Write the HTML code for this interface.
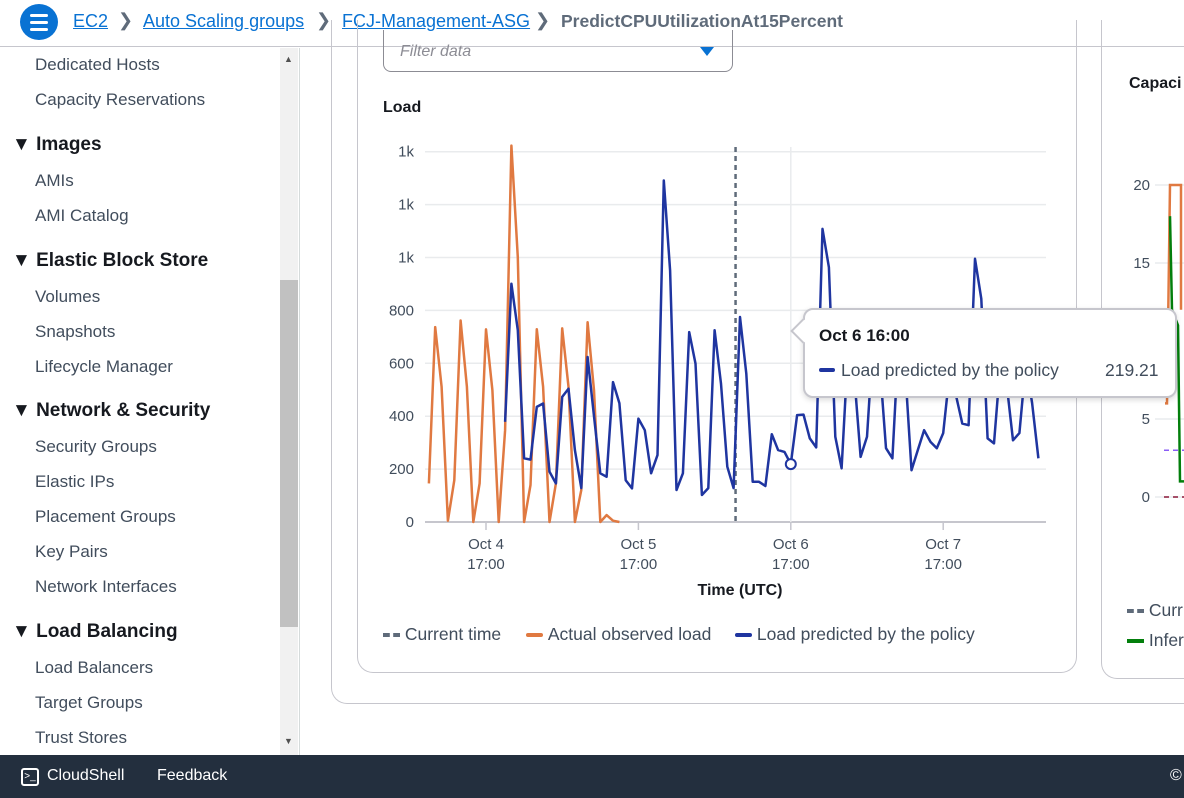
<!DOCTYPE html>
<html><head><meta charset="utf-8">
<style>
*{box-sizing:border-box;margin:0;padding:0}
body{width:1184px;height:798px;overflow:hidden;background:#fff;font-family:"Liberation Sans",Arial,sans-serif;color:#16191f;position:relative}
.abs{position:absolute}
#hdr{left:0;top:0;width:1184px;height:47px;border-bottom:1px solid #c6c6cd;background:#fff}
.crumb{position:absolute;top:11px;font-size:18px;color:#0972d3;text-decoration:underline}
.sep{position:absolute;top:10px;font-size:18px;color:#5f6b7a}
#side{left:0;top:48px;width:300px;height:707px;border-right:1px solid #d5dbdb}
.si{position:absolute;left:35px;font-size:17px;color:#414d5c}
.sh{position:absolute;left:12px;font-size:19px;font-weight:bold;color:#16191f}
#foot{left:0;top:755px;width:1184px;height:43px;background:#232f3e;color:#fff;font-size:16px}
.lg{position:absolute;top:0;white-space:nowrap}
</style></head><body>
<div id="hdr" class="abs">
 <div class="abs" style="left:20px;top:4px;width:38px;height:36px;border-radius:50%;background:#0972d3">
  <div class="abs" style="left:10px;top:10px;width:18px;height:3px;background:#fff;border-radius:2px"></div>
  <div class="abs" style="left:10px;top:17px;width:18px;height:3px;background:#fff;border-radius:2px"></div>
  <div class="abs" style="left:10px;top:24px;width:18px;height:3px;background:#fff;border-radius:2px"></div>
 </div>
 <a class="crumb" style="left:73px">EC2</a>
 <span class="sep" style="left:118px">&#x276F;</span>
 <a class="crumb" style="left:143px">Auto Scaling groups</a>
 <span class="sep" style="left:316px">&#x276F;</span>
 <a class="crumb" style="left:342px">FCJ-Management-ASG</a>
 <span class="sep" style="left:535px">&#x276F;</span>
 <span class="abs" style="left:561px;top:11px;font-size:17.5px;font-weight:bold;color:#5f6b7a">PredictCPUUtilizationAt15Percent</span>
</div>
<div id="side" class="abs">
 <div class="si" style="top:7px">Dedicated Hosts</div>
 <div class="si" style="top:42px">Capacity Reservations</div>
 <div class="sh" style="top:86px">▼ Images</div>
 <div class="si" style="top:123px">AMIs</div>
 <div class="si" style="top:158px">AMI Catalog</div>
 <div class="sh" style="top:202px">▼ Elastic Block Store</div>
 <div class="si" style="top:239px">Volumes</div>
 <div class="si" style="top:274px">Snapshots</div>
 <div class="si" style="top:309px">Lifecycle Manager</div>
 <div class="sh" style="top:352px">▼ Network &amp; Security</div>
 <div class="si" style="top:389px">Security Groups</div>
 <div class="si" style="top:424px">Elastic IPs</div>
 <div class="si" style="top:459px">Placement Groups</div>
 <div class="si" style="top:494px">Key Pairs</div>
 <div class="si" style="top:529px">Network Interfaces</div>
 <div class="sh" style="top:573px">▼ Load Balancing</div>
 <div class="si" style="top:610px">Load Balancers</div>
 <div class="si" style="top:645px">Target Groups</div>
 <div class="si" style="top:680px">Trust Stores</div>
 <div class="abs" style="left:280px;top:0;width:18px;height:707px;background:#f1f1f1">
  <div class="abs" style="left:0;top:232px;width:18px;height:347px;background:#c1c1c1"></div>
  <div class="abs" style="left:4px;top:6px;font-size:9px;color:#505050">▲</div>
  <div class="abs" style="left:4px;top:688px;font-size:9px;color:#505050">▼</div>
 </div>
</div>
<div class="abs" style="left:331px;top:20px;width:900px;height:684px;border:1px solid #c6c6cd;border-top:none;border-radius:0 0 16px 16px"></div>
<div class="abs" style="left:357px;top:20px;width:720px;height:653px;border:1px solid #c6c6cd;border-top:none;border-radius:0 0 16px 16px"></div>
<div class="abs" style="left:1101px;top:20px;width:120px;height:659px;border:1px solid #c6c6cd;border-top:none;border-radius:0 0 16px 16px"></div>
<div class="abs" style="left:383px;top:30px;width:350px;height:42px;border:1px solid #8c8c94;border-top:none;border-radius:0 0 8px 8px">
 <span class="abs" style="left:16px;top:13px;font-size:16px;font-style:italic;color:#8c8c94">Filter data</span>
 <div class="abs" style="left:316px;top:17px;width:0;height:0;border-left:7px solid transparent;border-right:7px solid transparent;border-top:9px solid #0972d3"></div>
</div>
<div class="abs" style="left:383px;top:99px;font-size:16px;font-weight:bold">Load</div>
<div class="abs" style="left:1129px;top:75px;font-size:16px;font-weight:bold">Capaci</div>

<svg class="abs" style="left:0;top:0" width="1184" height="798" id="chart"></svg>

<div class="abs" style="left:803px;top:308px;width:374px;height:90px;background:#fff;border:2px solid #c6c6cd;border-radius:10px;box-shadow:0 2px 6px rgba(0,0,0,.15)">
 <div class="abs" style="left:-11px;top:12px;width:18px;height:18px;background:#fff;border-left:2px solid #c6c6cd;border-bottom:2px solid #c6c6cd;transform:rotate(45deg)"></div>
 <div class="abs" style="left:14px;top:16px;font-size:17px;font-weight:bold">Oct 6 16:00</div>
 <div class="abs" style="left:14px;top:58px;width:16px;height:4px;background:#1f35a0;border-radius:2px"></div>
 <div class="abs" style="left:36px;top:50px;font-size:17.5px;color:#414d5c">Load predicted by the policy</div>
 <div class="abs" style="left:300px;top:50px;font-size:17.5px;color:#414d5c">219.21</div>
</div>

<div class="abs" style="left:383px;top:624px;width:640px;height:22px;font-size:17.5px;color:#414d5c">
 <span class="lg" style="left:0"><span style="display:inline-block;width:17px;border-top:4px dashed #5f6b7a;vertical-align:middle"></span>&nbsp;Current time</span>
 <span class="lg" style="left:143px"><span style="display:inline-block;width:17px;height:4px;background:#e07941;border-radius:2px;vertical-align:middle"></span>&nbsp;Actual observed load</span>
 <span class="lg" style="left:352px"><span style="display:inline-block;width:17px;height:4px;background:#1f35a0;border-radius:2px;vertical-align:middle"></span>&nbsp;Load predicted by the policy</span>
</div>
<div class="abs" style="left:1127px;top:600px;font-size:17.5px;color:#414d5c;white-space:nowrap"><span style="display:inline-block;width:17px;border-top:4px dashed #5f6b7a;vertical-align:middle"></span> Curr</div>
<div class="abs" style="left:1127px;top:630px;font-size:17.5px;color:#414d5c;white-space:nowrap"><span style="display:inline-block;width:17px;height:4px;background:#037f0c;vertical-align:middle"></span> Infer</div>

<div id="foot" class="abs">
 <div class="abs" style="left:21px;top:13px;width:18px;height:18px;border:2px solid #fff;border-radius:3px;font-size:10px;line-height:13px;text-align:center">&gt;_</div>
 <span class="abs" style="left:47px;top:12px">CloudShell</span>
 <span class="abs" style="left:157px;top:12px">Feedback</span>
 <span class="abs" style="left:1170px;top:12px">©</span>
</div>

<script>
const actualLoad=[146,737,511,5,158,762,511,0,146,728,498,0,347,1423,1001,0,140,729,511,0,146,732,511,0,121,755,498,0,26,5,0];
const predictedStart=12;
const predictedLoad=[379,901,725,241,236,435,448,190,146,473,504,272,128,624,400,184,171,529,449,158,127,391,347,184,253,1291,951,121,184,718,599,102,128,725,523,209,128,775,561,152,152,136,332,272,265,219,404,406,316,282,1108,963,322,203,650,550,246,322,700,600,279,241,700,580,196,272,347,303,279,336,560,480,372,366,995,844,316,297,600,520,309,336,600,450,241];
const yTicks=[0,200,400,600,800,1000,1200,1400];
const yTickLabels=['0','200','400','600','800','1k','1k','1k'];
const xTickHours=[0,24,48,72];
const xTickLabels=['Oct 4','Oct 5','Oct 6','Oct 7'];
const startHour=-9;
const currentTimeHour=39.3;
const hoverIndex=57;
const capTicks=[0,5,15,20];

const NS='http://www.w3.org/2000/svg';
const svg=document.getElementById('chart');
const X=h=>486+h*6.35;
const Y=v=>522-v*0.2645;
function mk(t,a){const e=document.createElementNS(NS,t);for(const k in a)e.setAttribute(k,a[k]);svg.appendChild(e);return e;}
yTicks.forEach((v,i)=>{
 const g=mk('line',{x1:425,x2:1046,y1:Y(v),y2:Y(v),stroke:i==0?'#c6c6cd':'#e9ebed','stroke-width':i==0?2:1.5});
 
 
 const t=mk('text',{x:414,y:Y(v)+5,'text-anchor':'end','font-size':15,fill:'#414d5c','font-family':'Liberation Sans'});
 t.textContent=yTickLabels[i];
 
 
});
xTickHours.forEach((h,i)=>{
 const l=mk('line',{x1:X(h),x2:X(h),y1:523,y2:530,stroke:'#c6c6cd','stroke-width':1.5});
 
 
 const t=mk('text',{x:X(h),y:549,'text-anchor':'middle','font-size':15,fill:'#414d5c','font-family':'Liberation Sans'});
 t.textContent=xTickLabels[i];
 
 
 const t2=mk('text',{x:X(h),y:569,'text-anchor':'middle','font-size':15,fill:'#414d5c','font-family':'Liberation Sans'});
 t2.textContent='17:00';
 
 
});
const at=mk('text',{x:740,y:595,'text-anchor':'middle','font-size':16,'font-weight':'bold',fill:'#16191f','font-family':'Liberation Sans'});
at.textContent='Time (UTC)';


const hx=X(startHour+hoverIndex);
const hl=mk('line',{x1:hx,x2:hx,y1:147,y2:522,stroke:'#e9ebed','stroke-width':1.5});


const cx=X(currentTimeHour);
const cl=mk('line',{x1:cx,x2:cx,y1:147,y2:522,stroke:'#5f6b7a','stroke-width':2.5,'stroke-dasharray':'5,4'});


const oa=actualLoad.map((v,i)=>X(startHour+i).toFixed(1)+','+Y(v).toFixed(1)).join(' ');
const op=mk('polyline',{points:oa,fill:'none',stroke:'#e07941','stroke-width':2.5,'stroke-linejoin':'round'});


const pa=predictedLoad.map((v,i)=>X(startHour+predictedStart+i).toFixed(1)+','+Y(v).toFixed(1)).join(' ');
const pp=mk('polyline',{points:pa,fill:'none',stroke:'#1f35a0','stroke-width':2.5,'stroke-linejoin':'round'});


const hv=predictedLoad[hoverIndex-predictedStart];
const mc=mk('circle',{cx:hx,cy:Y(hv),r:5,fill:'#fff',stroke:'#1f35a0','stroke-width':2});


const CY=v=>497-v*15.6;
capTicks.forEach(v=>{
 const t=mk('text',{x:1150,y:CY(v)+5,'text-anchor':'end','font-size':15,fill:'#414d5c','font-family':'Liberation Sans'});
 t.textContent=String(v);
 
 
 const g=mk('line',{x1:1155,x2:1184,y1:CY(v),y2:CY(v),stroke:'#e9ebed','stroke-width':1.5});
 
 
});
const co=mk('polyline',{points:`1165,${CY(6)} 1167,${CY(6)} 1170,${CY(20)} 1181,${CY(20)} 1181,${CY(12)}`,fill:'none',stroke:'#e07941','stroke-width':2.5});


const cg=mk('polyline',{points:`1170,${CY(18)} 1172,${CY(12)} 1178,${CY(11)} 1180,${CY(1)} 1184,${CY(1)}`,fill:'none',stroke:'#037f0c','stroke-width':2.5});


const cp=mk('line',{x1:1164,x2:1184,y1:CY(3),y2:CY(3),stroke:'#8a5cf6','stroke-width':1.5,'stroke-dasharray':'5,4'});


const cr=mk('line',{x1:1164,x2:1184,y1:CY(0),y2:CY(0),stroke:'#8b1a3a','stroke-width':1.5,'stroke-dasharray':'5,4'});


</script>
</body></html>
